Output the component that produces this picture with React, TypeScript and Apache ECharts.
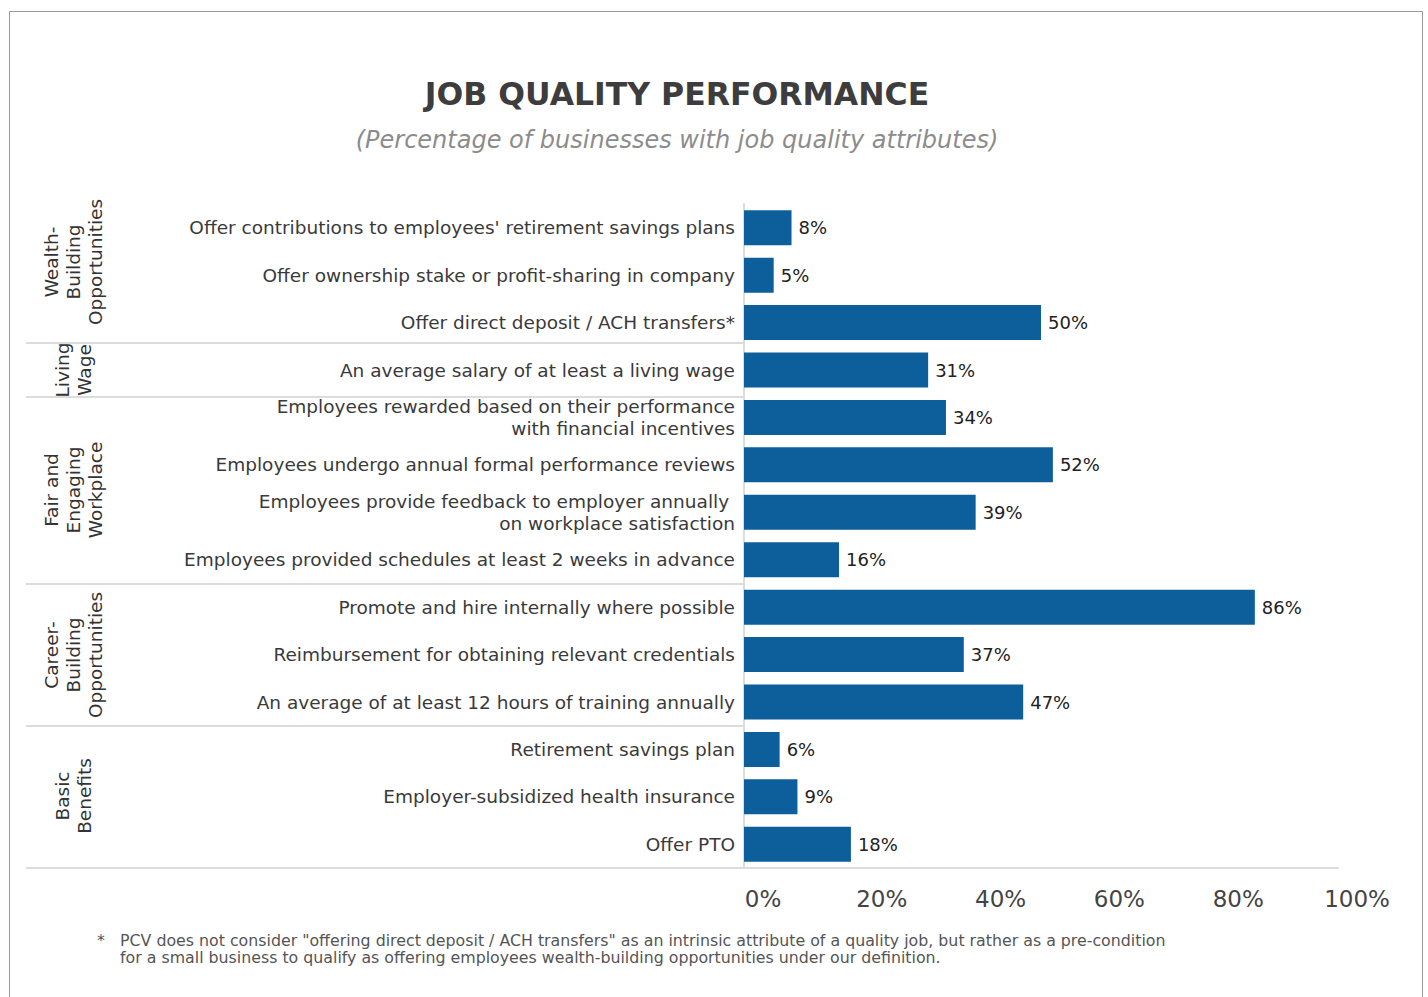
import React, { useEffect, useRef } from "react";
import * as echarts from "echarts";

const categories = [
  "Offer contributions to employees' retirement savings plans",
  "Offer ownership stake or profit-sharing in company",
  "Offer direct deposit / ACH transfers*",
  "An average salary of at least a living wage",
  "Employees rewarded based on their performance\nwith financial incentives",
  "Employees undergo annual formal performance reviews",
  "Employees provide feedback to employer annually \non workplace satisfaction",
  "Employees provided schedules at least 2 weeks in advance",
  "Promote and hire internally where possible",
  "Reimbursement for obtaining relevant credentials",
  "An average of at least 12 hours of training annually",
  "Retirement savings plan",
  "Employer-subsidized health insurance",
  "Offer PTO",
];
const values = [8, 5, 50, 31, 34, 52, 39, 16, 86, 37, 47, 6, 9, 18];

const groupNames = [
  "Wealth-\nBuilding\nOpportunities",
  "Living\nWage",
  "Fair and\nEngaging\nWorkplace",
  "Career-\nBuilding\nOpportunities",
  "Basic\nBenefits",
];
const groupCenters = [262, 370, 490, 655, 796];
const separatorYs = [343, 397, 584, 726];

const xTicks = { min: 0, max: 100, interval: 20 };

const titleText = "JOB QUALITY PERFORMANCE";
const subtitleText = "(Percentage of businesses with job quality attributes)";
const footnoteLines = [
  "PCV does not consider \"offering direct deposit / ACH transfers\" as an intrinsic attribute of a quality job, but rather as a pre-condition",
  "for a small business to qualify as offering employees wealth-building opportunities under our definition.",
];

const FONT = "'DejaVu Sans', 'Noto Sans', sans-serif";

export default function App() {
  const ref = useRef<HTMLDivElement>(null);
  useEffect(() => {
    if (!ref.current) return;
    const chart = echarts.init(ref.current, undefined, { renderer: "svg" });
    const lineStyle = { stroke: "#dcdcdc", lineWidth: 2 };
    const graphics: any[] = [
      {
        type: "rect",
        shape: { x: 9.5, y: 11.5, width: 1413, height: 1010 },
        style: { fill: "none", stroke: "#9a9a9a", lineWidth: 1 },
        silent: true,
      },
      {
        type: "text",
        x: 677,
        y: 94,
        style: {
          text: titleText,
          font: `bold 31.5px ${FONT}`,
          fill: "#3d3d3d",
          textAlign: "center",
          textVerticalAlign: "middle",
        },
      },
      {
        type: "text",
        x: 677,
        y: 140,
        style: {
          text: subtitleText,
          font: `italic 400 24px ${FONT}`,
          fill: "#8c8c8c",
          textAlign: "center",
          textVerticalAlign: "middle",
        },
      },
      {
        type: "line",
        shape: { x1: 26, y1: 868, x2: 744, y2: 868 },
        style: lineStyle,
        silent: true,
      },
      ...separatorYs.map((y) => ({
        type: "line",
        shape: { x1: 26, y1: y, x2: 743, y2: y },
        style: lineStyle,
        silent: true,
      })),
      ...groupNames.map((name, i) => ({
        type: "text",
        x: 73,
        y: groupCenters[i],
        rotation: Math.PI / 2,
        style: {
          text: name,
          font: `18.5px ${FONT}`,
          fill: "#333",
          textAlign: "center",
          textVerticalAlign: "middle",
          lineHeight: 22,
        },
      })),
      {
        type: "text",
        x: 97,
        y: 940,
        style: {
          text: "*",
          font: `15.8px ${FONT}`,
          fill: "#555",
          textVerticalAlign: "middle",
        },
      },
      ...footnoteLines.map((t, i) => ({
        type: "text",
        x: 120,
        y: 940 + i * 17,
        style: {
          text: t,
          font: `15.8px ${FONT}`,
          fill: "#555",
          textVerticalAlign: "middle",
        },
      })),
    ];

    chart.setOption({
      animation: false,
      backgroundColor: "#fff",
      grid: { left: 744, right: 90, top: 204, bottom: 129, containLabel: false },
      xAxis: {
        type: "value",
        min: xTicks.min,
        max: xTicks.max,
        interval: xTicks.interval,
        splitLine: { show: false },
        axisTick: { show: false },
        axisLine: { show: true, lineStyle: { color: "#dcdcdc", width: 2 } },
        axisLabel: {
          formatter: "{value}%",
          fontSize: 23,
          fontFamily: FONT,
          color: "#444",
          margin: 19,
          padding: [0, 0, 0, 38],
        },
      },
      yAxis: {
        type: "category",
        data: categories,
        inverse: true,
        axisTick: { show: false },
        axisLine: { show: true, lineStyle: { color: "#dcdcdc", width: 2 } },
        axisLabel: {
          fontSize: 18.5,
          fontFamily: FONT,
          color: "#3a3a3a",
          margin: 9,
          lineHeight: 22,
          align: "right",
        },
      },
      series: [
        {
          type: "bar",
          data: values,
          barWidth: 35,
          itemStyle: { color: "#0d5f9b" },
          label: {
            show: true,
            position: "right",
            distance: 7,
            formatter: "{c}%",
            fontSize: 18,
            fontFamily: FONT,
            color: "#222",
          },
        },
      ],
      graphic: graphics,
    });
    return () => chart.dispose();
  }, []);
  return (
    <div
      ref={ref}
      style={{ position: "absolute", left: 0, top: 0, width: 1428, height: 997 }}
    />
  );
}
